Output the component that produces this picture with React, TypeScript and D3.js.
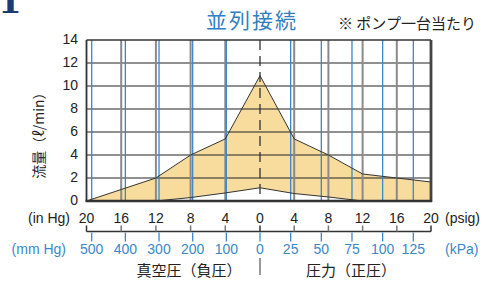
import {useEffect, useRef} from "react"
import * as d3 from "d3"

// readings, vacuum side (in Hg) and pressure side (psig)
const inHgTicks = [20, 16, 12, 8, 4, 0]
const psigTicks = [0, 4, 8, 12, 16, 20]
const mmHgTicks = [500, 400, 300, 200, 100, 0]
const kPaTicks = [0, 25, 50, 75, 100, 125]
const flowTicks = [0, 2, 4, 6, 8, 10, 12, 14]

const vacuumUpper = [0, 1.0, 2.0, 4.0, 5.4, 10.9]
const vacuumLower = [0, 0, 0, 0.3, 0.7, 1.15]
const pressureUpper = [10.9, 5.4, 4.0, 2.35, 2.0, 1.65]
const pressureLower = [1.15, 0.65, 0.35, 0, 0, 0]

const title = "並列接続"
const note = "※ ポンプ一台当たり"
const yLabel = "流量（ℓ/min）"
const vacuumLabel = "真空圧（負圧）"
const pressureLabel = "圧力（正圧）"

const font = "'Liberation Sans', Arial, 'Noto Sans CJK JP', sans-serif"
const cjk = "'Noto Sans CJK JP', 'Liberation Sans', sans-serif"
const blue = "#3a87c9"
const fillColor = "#f7dc9d"

export default function App() {
  const width = 482
  const height = 281
  const ref = useRef<SVGSVGElement>(null)

  useEffect(() => {
    const svg = d3.select(ref.current)
    svg.selectAll("*").remove()

    /**
     * Scales: the x axis is split at 0, vacuum on the left, pressure on the right
     */
    const x0 = 260
    const xVac = d3.scaleLinear().domain([20, 0]).range([86.5, x0])
    const xPress = d3.scaleLinear().domain([0, 20]).range([x0, 431])
    const xMm = d3.scaleLinear().domain([500, 0]).range([91.7, x0])
    const xKpa = d3.scaleLinear().domain([0, 125]).range([x0, 413.3])
    const y = d3.scaleLinear().domain([0, 14]).range([201, 40])
    const left = xVac(20)
    const right = xPress(20)

    /**
     * Points, left to right
     */
    const pts = [
      ...inHgTicks.map((v, i) => ({x: xVac(v), hi: vacuumUpper[i], lo: vacuumLower[i]})),
      ...psigTicks.slice(1).map((v, i) => ({
        x: xPress(v),
        hi: pressureUpper[i + 1],
        lo: pressureLower[i + 1],
      })),
    ]

    const area = d3
      .area<any>()
      .x((d) => d.x)
      .y0((d) => y(d.lo))
      .y1((d) => y(d.hi))
    svg.append("path").attr("d", area(pts)).attr("fill", fillColor)

    /**
     * Grid
     */
    const g = svg.append("g")
    g.selectAll(".hline")
      .data(flowTicks.slice(1, -1))
      .join("line")
      .attr("x1", left)
      .attr("x2", right)
      .attr("y1", (d) => y(d))
      .attr("y2", (d) => y(d))
      .attr("stroke", "#222")
      .attr("stroke-width", 1.2)

    const grayX = [
      ...inHgTicks.slice(1, -1).map((v) => xVac(v)),
      ...psigTicks.slice(1, -1).map((v) => xPress(v)),
    ]
    g.selectAll(".gray")
      .data(grayX)
      .join("line")
      .attr("x1", (d) => d)
      .attr("x2", (d) => d)
      .attr("y1", y(14))
      .attr("y2", y(0))
      .attr("stroke", "#8a8a8a")
      .attr("stroke-width", 2)

    const blueX = [
      ...mmHgTicks.slice(0, -1).map((v) => xMm(v)),
      ...kPaTicks.slice(1).map((v) => xKpa(v)),
    ]
    g.selectAll(".blue")
      .data(blueX)
      .join("line")
      .attr("x1", (d) => d)
      .attr("x2", (d) => d)
      .attr("y1", y(14))
      .attr("y2", y(0))
      .attr("stroke", blue)
      .attr("stroke-width", 1.3)

    // center dashed line
    g.append("line")
      .attr("x1", x0)
      .attr("x2", x0)
      .attr("y1", y(14))
      .attr("y2", y(0))
      .attr("stroke", "#333")
      .attr("stroke-width", 1.3)
      .attr("stroke-dasharray", "10,6")

    /**
     * Curves
     */
    const line = d3.line<any>().x((d) => d.x)
    svg.append("path")
      .attr("d", line.y((d) => y(d.hi))(pts))
      .attr("fill", "none")
      .attr("stroke", "#333")
      .attr("stroke-width", 1)
    svg.append("path")
      .attr("d", line.y((d) => y(d.lo))(pts))
      .attr("fill", "none")
      .attr("stroke", "#333")
      .attr("stroke-width", 1)

    /**
     * Frame
     */
    svg.append("line").attr("x1", left).attr("x2", right).attr("y1", y(14)).attr("y2", y(14))
      .attr("stroke", "#333").attr("stroke-width", 1.3)
    svg.append("line").attr("x1", left).attr("x2", left).attr("y1", y(14)).attr("y2", y(0))
      .attr("stroke", "#333").attr("stroke-width", 1.8)
    svg.append("line").attr("x1", right).attr("x2", right).attr("y1", y(14)).attr("y2", y(0) + 1)
      .attr("stroke", "#444").attr("stroke-width", 2.8)
    svg.append("line").attr("x1", left - 1).attr("x2", right + 1).attr("y1", y(0)).attr("y2", y(0))
      .attr("stroke", "#333").attr("stroke-width", 2.4)

    /**
     * Y axis labels
     */
    svg.append("g")
      .selectAll("text")
      .data(flowTicks)
      .join("text")
      .attr("x", 78)
      .attr("y", (d) => y(d) - 1)
      .attr("dy", "0.35em")
      .attr("text-anchor", "end")
      .attr("font-size", 14)
      .attr("font-family", font)
      .attr("fill", "#222")
      .text((d) => d)

    svg.append("text")
      .attr("transform", `translate(39, 132) rotate(-90)`)
      .attr("text-anchor", "middle")
      .attr("dy", "0.35em")
      .attr("font-size", 14)
      .attr("font-family", cjk)
      .attr("fill", "#222")
      .text(yLabel)

    /**
     * Bottom scale: in Hg / psig above, mm Hg / kPa below
     */
    const axisY = 231.5
    const b = svg.append("g").attr("font-family", font).attr("font-size", 14)
    b.append("line").attr("x1", left).attr("x2", right).attr("y1", axisY).attr("y2", axisY)
      .attr("stroke", "#333").attr("stroke-width", 1.5)

    const topTicks = [
      ...inHgTicks.map((v) => ({x: xVac(v), v})),
      ...psigTicks.slice(1).map((v) => ({x: xPress(v), v})),
    ]
    b.selectAll(".tt")
      .data(topTicks)
      .join("line")
      .attr("x1", (d) => d.x)
      .attr("x2", (d) => d.x)
      .attr("y1", axisY - 6)
      .attr("y2", axisY)
      .attr("stroke", (d, i) => (i === 0 || i === topTicks.length - 1 || d.v === 0 ? "#333" : "#777"))
      .attr("stroke-width", 1.5)
    b.selectAll(".tl")
      .data(topTicks)
      .join("text")
      .attr("x", (d) => d.x)
      .attr("y", 223)
      .attr("text-anchor", "middle")
      .attr("fill", "#222")
      .text((d) => d.v)

    const botTicks = [
      ...mmHgTicks.map((v) => ({x: xMm(v), v})),
      ...kPaTicks.slice(1).map((v) => ({x: xKpa(v), v})),
    ]
    b.selectAll(".bt")
      .data(botTicks)
      .join("line")
      .attr("x1", (d) => d.x)
      .attr("x2", (d) => d.x)
      .attr("y1", axisY + 1)
      .attr("y2", axisY + 10)
      .attr("stroke", blue)
      .attr("stroke-width", 1.3)
    b.selectAll(".bl")
      .data(botTicks)
      .join("text")
      .attr("x", (d) => d.x)
      .attr("y", 254)
      .attr("text-anchor", "middle")
      .attr("fill", blue)
      .text((d) => d.v)

    b.append("text").attr("x", 70).attr("y", 223).attr("text-anchor", "end").attr("fill", "#222").text("(in Hg)")
    b.append("text").attr("x", 445).attr("y", 223).attr("fill", "#222").text("(psig)")
    b.append("text").attr("x", 66).attr("y", 254).attr("text-anchor", "end").attr("fill", blue).text("(mm Hg)")
    b.append("text").attr("x", 445).attr("y", 254).attr("fill", blue).text("(kPa)")

    b.append("line").attr("x1", x0).attr("x2", x0).attr("y1", 258).attr("y2", 275)
      .attr("stroke", "#333").attr("stroke-width", 1)
    b.append("text").attr("x", 189).attr("y", 276).attr("text-anchor", "middle").attr("font-size", 15)
      .attr("font-family", cjk).attr("fill", "#222").text(vacuumLabel)
    b.append("text").attr("x", 351).attr("y", 276).attr("text-anchor", "middle").attr("font-size", 15)
      .attr("font-family", cjk).attr("fill", "#222").text(pressureLabel)

    /**
     * Titles
     */
    svg.append("text")
      .attr("x", 252)
      .attr("y", 28)
      .attr("text-anchor", "middle")
      .attr("font-size", 21)
      .attr("letter-spacing", 2)
      .attr("font-family", cjk)
      .attr("fill", "#2f7fc2")
      .text(title)
    svg.append("text")
      .attr("x", 338)
      .attr("y", 29)
      .attr("font-size", 15)
      .attr("font-family", cjk)
      .attr("fill", "#222")
      .text(note)

    // cut-off figure number at the top left
    svg.append("text")
      .attr("x", -2)
      .attr("y", 13)
      .attr("font-size", 34)
      .attr("font-weight", "bold")
      .attr("font-family", "'DejaVu Serif', serif")
      .attr("fill", "#1d3a72")
      .text("1")
  }, [])

  return (
    <svg
      ref={ref}
      width={width}
      height={height}
      style={{position: "absolute", left: 0, top: 0, background: "#fff"}}
    ></svg>
  )
}
